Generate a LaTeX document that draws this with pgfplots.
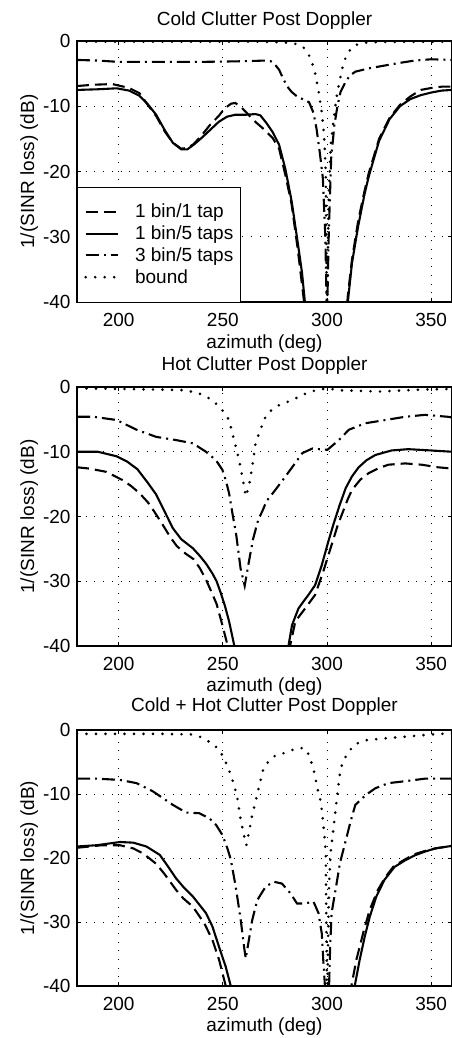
\documentclass[border=0pt]{standalone}
\usepackage{fontspec}
\setmainfont{Liberation Sans}
\usepackage{pgfplots}
\pgfplotsset{compat=1.18}
\newcommand{\fs}{\fontsize{19}{22}\selectfont}
\pgfplotsset{
  panel/.style={
    scale only axis, width=375pt, anchor=north west,
    xmin=180, xmax=360, ymin=-40, ymax=0,
    xtick={200,250,300,350}, ytick={-40,-30,-20,-10,0},
    grid=major,
    major grid style={black, line width=0.9pt, dash pattern=on 0.9pt off 7.8pt},
    tick align=inside, major tick length=4pt,
    tick style={black, line width=0.8pt},
    axis line style={line width=1.5pt},
    ticklabel style={font=\fs},
    /pgf/number format/assume math mode=true,
    xticklabel style={anchor=base, yshift=-24pt},
    yticklabel style={anchor=east, xshift=-3pt},
  },
  sA/.style={black, line width=2.1pt, dash pattern=on 12pt off 6pt},
  sB/.style={black, line width=2.1pt, solid},
  sC/.style={black, line width=2.1pt, dash pattern=on 13pt off 5pt on 2pt off 5pt},
  sD/.style={black, line width=2.9pt, line cap=round, dash pattern=on 0pt off 9.5pt},
}
\begin{document}
\begin{tikzpicture}
\useasboundingbox (0pt,0pt) rectangle (452pt,-1038pt);
% ---------------- Panel 1: Cold ----------------
\begin{axis}[panel, at={(77pt,-41pt)}, height=261pt,
  legend style={at={(0,0)}, anchor=south west, draw=black, fill=white,
    font=\fs, inner xsep=7pt, inner ysep=14pt, row sep=0.5pt,
    nodes={inner xsep=0pt, inner ysep=3pt}, cells={anchor=west},
    /tikz/every odd column/.append style={column sep=16pt}},
  legend cell align=left,
  legend image code/.code={\draw[#1] (0pt,0pt) -- (32pt,0pt);},
]
\addplot[sA] coordinates {(180,-6.9) (188,-6.7) (197,-6.6) (205,-7.2) (210,-8.0) (214,-9.8) (218,-11.5) (222,-13.8) (226,-15.6) (230,-16.5) (233,-16.4) (236,-15.8) (240,-14.4) (244,-12.8) (248,-11.5) (251,-10.3) (254,-9.6) (256,-9.5) (259,-10.2) (262,-11.2) (266,-12.5) (270,-13.6) (274,-14.9) (277,-16.5) (280,-20.5) (283,-25) (286,-32) (289,-40) (290,-43)
 (309,-43) (310,-39) (312,-33.5) (315,-27.5) (318,-23) (320,-20.3) (325,-15) (330,-11.8) (335,-9.8) (340,-8.5) (345,-7.5) (350,-7.2) (355,-7.0) (360,-7.0)};
\addlegendentry{1 bin/1 tap}
\addplot[sB] coordinates {(180,-7.5) (190,-7.4) (199,-7.25) (205,-7.6) (210,-8.4) (214,-9.7) (218,-11.3) (222,-13.6) (226,-15.6) (230,-16.6) (233,-16.6) (236,-15.9) (240,-14.8) (244,-13.6) (248,-12.4) (252,-11.6) (256,-11.3) (261,-11.3) (265.7,-11.2) (268,-11.4) (271,-12.6) (274,-14.0) (277,-15.9) (280,-19.6) (283,-24.5) (286,-31) (288,-35.5) (290,-42)
 (309.5,-43) (310,-40) (312,-34) (315,-28.3) (318,-23.5) (320,-20.8) (325,-15.3) (330,-12.0) (335,-10.0) (340,-8.9) (345,-8.3) (350,-7.9) (355,-7.6) (360,-7.5)};
\addlegendentry{1 bin/5 taps}
\addplot[sC] coordinates {(180,-2.9) (190,-3.0) (200,-3.2) (220,-3.2) (240,-3.2) (260,-3.1) (270,-3.0) (273,-3.1) (275,-3.6) (277,-4.4) (279,-5.8) (281,-7.0) (283,-7.8) (286,-8.6) (289,-9.0) (291.4,-9.4) (293.5,-11.0) (295,-13.5) (296.5,-17) (298,-21) (299.2,-30) (300,-43) (300.8,-30) (302,-18) (303.5,-13) (305,-10) (306.5,-7.8) (309,-6.2) (311,-5.3) (313.6,-4.7) (320,-4.2) (327,-3.8) (334,-3.4) (342,-3.0) (350,-2.8) (360,-2.9)};
\addlegendentry{3 bin/5 taps}
\addplot[sD] coordinates {(180,-0.1) (200,-0.1) (220,-0.1) (240,-0.1) (260,-0.1) (275,-0.15) (282,-0.3) (286,-0.5) (288.5,-0.9) (291,-1.9) (293,-3.5) (294.5,-5.2) (296,-7.8) (297.5,-11) (298.6,-14.4) (299.4,-20) (300,-43) (300.8,-24) (301.8,-16) (303.3,-11.8) (304.5,-8.8) (305.7,-6.7) (307,-4.6) (308.5,-2.9) (310.5,-1.6) (313,-0.7) (317,-0.3) (325,-0.15) (360,-0.1)};
\addlegendentry{bound}
\end{axis}
% ---------------- Panel 2: Hot ----------------
\begin{axis}[panel, at={(77pt,-387pt)}, height=259pt]
\addplot[sA] coordinates {(180,-12.4) (186,-12.6) (194,-13.1) (202,-14.4) (206,-15.3) (210,-16.4) (214,-17.8) (217,-19.2) (221,-21.2) (225,-23.3) (228,-24.6) (232,-25.7) (236,-26.6) (239,-28.0) (242,-29.8) (245,-32.0) (247,-33.5) (249.8,-36.8) (252.2,-39.8) (253,-43)
 (282,-43) (282.4,-39.8) (284.8,-36.2) (289.5,-34.2) (294.3,-32.1) (298.2,-28.5) (302.2,-24.4) (305,-21.5) (307,-19.8) (310,-17.3) (312,-15.9) (316,-14.3) (320,-13.3) (325,-12.5) (329.5,-12.0) (337.5,-11.8) (345.4,-12.0) (353.3,-12.4) (360,-12.6)};
\addplot[sB] coordinates {(180,-10.0) (190,-10.0) (199,-10.7) (204,-11.5) (209,-12.7) (214,-14.8) (218,-16.6) (222,-19.2) (226,-21.8) (230,-23.5) (235.6,-24.9) (239,-26.1) (242,-27.3) (245,-28.8) (247,-30.0) (249,-31.8) (251,-33.8) (253,-36.2) (255.4,-39.8) (256.5,-43)
 (281,-43) (281.6,-39.8) (283.2,-36.8) (286.3,-34.2) (289,-33.0) (291.1,-32.1) (294.3,-30.6) (297.5,-27.5) (300.6,-23.9) (303,-21.3) (306,-18.3) (309,-15.6) (312,-13.8) (315.2,-12.4) (319,-11.3) (323.2,-10.5) (331,-9.8) (339,-9.6) (350,-9.8) (360,-10.0)};
\addplot[sC] coordinates {(180,-4.6) (188,-4.6) (199,-5.1) (208.6,-6.6) (218,-7.7) (227.6,-8.2) (235.6,-8.7) (241.9,-10.0) (246.7,-11.3) (249.8,-12.8) (251.4,-14.4) (253,-16.4) (254.6,-19.5) (256.5,-23) (258.5,-28) (260.5,-30.7) (262.5,-27) (264.5,-23.5) (267,-20.5) (269.2,-19.0) (271,-17.6) (274,-16.4) (278.7,-14.4) (283.5,-12.3) (288.2,-10.2) (293,-9.5) (296,-9.6) (300.2,-9.7) (305.7,-8.2) (310.5,-6.6) (318.4,-5.6) (328,-5.1) (337.5,-4.6) (347,-4.3) (358,-4.6) (360,-4.7)};
\addplot[sD] coordinates {(180,-0.2) (200,-0.3) (220,-0.4) (232,-0.5) (238.7,-1.0) (245,-2.0) (249.8,-3.6) (253,-5.1) (254.6,-7.2) (256.2,-9.2) (257.8,-11.3) (259.4,-13.9) (261,-16.9) (262.5,-15.4) (264.1,-12.3) (265.7,-8.7) (268,-6.6) (270.5,-4.6) (272.4,-3.8) (277,-2.8) (283.5,-2.0) (288.2,-1.2) (294.6,-0.5) (300.2,-0.2) (306,-0.5) (325,-0.7) (345,-0.4) (360,-0.3)};
\end{axis}
% ---------------- Panel 3: Cold + Hot ----------------
\begin{axis}[panel, at={(77pt,-730pt)}, height=256pt]
\addplot[sA] coordinates {(180,-18.4) (192,-18.0) (200.6,-18.0) (207,-18.5) (211.8,-19.3) (218,-20.9) (222,-22.5) (227.6,-25.0) (231,-26.3) (235.6,-27.6) (241.1,-30.2) (245,-32.8) (248.2,-35.9) (251.4,-40) (252.5,-43)
 (310.5,-43) (311.7,-40) (314.1,-35.9) (317.3,-31.8) (320.5,-28.1) (324.4,-25.0) (328,-23.0) (332,-21.3) (337,-20.3) (342,-19.4) (347,-18.9) (352,-18.5) (358,-18.2) (360,-18.1)};
\addplot[sB] coordinates {(180,-18.2) (189.5,-18.0) (200.6,-17.5) (207,-17.6) (213.3,-18.2) (219.7,-19.5) (223,-21.0) (227.6,-23.2) (231,-24.5) (235.6,-26.0) (241.9,-28.6) (245,-30.7) (248.2,-33.9) (251.4,-37) (253.8,-40) (255,-43)
 (312,-43) (313.3,-40) (315.7,-35.9) (318.1,-32.3) (320.5,-29.2) (323.7,-26.0) (327.6,-23.4) (332.4,-21.4) (337.3,-20.4) (342,-19.6) (347,-19.0) (352,-18.5) (358,-18.2) (360,-18.1)};
\addplot[sC] coordinates {(180,-7.6) (189.5,-7.6) (200.6,-7.8) (208.6,-8.3) (216.5,-9.6) (226,-11.7) (232.4,-12.9) (238.7,-13.0) (243.5,-13.8) (246.7,-14.8) (249.8,-16.4) (252.2,-18.5) (253.8,-20.2) (256.2,-24.5) (258.6,-29.7) (260.2,-33.9) (261,-35.7) (262.5,-32.8) (264.1,-29.7) (266.5,-26.6) (270.5,-24.5) (274.4,-23.7) (278.4,-24.0) (282.4,-25.5) (285.6,-27.1) (289.5,-27.1) (293.5,-26.8) (295.9,-28.6) (297.5,-31.8) (298.2,-35.9) (299,-40) (300,-43) (301,-40) (301.5,-34) (302.2,-28.6) (304.6,-24.0) (306.2,-20.8) (308.9,-17.4) (311.3,-14.3) (313.6,-11.7) (318.4,-10.2) (323.2,-9.1) (329.5,-8.3) (337.5,-8.0) (347,-7.6) (360,-7.6)};
\addplot[sD] coordinates {(180,-0.6) (200,-0.6) (220,-0.6) (235.6,-0.7) (238.7,-1.0) (245,-2.1) (248.2,-3.1) (250.6,-4.4) (252.2,-5.7) (253.8,-7.0) (255.4,-8.6) (257,-10.7) (258.6,-14.1) (260.2,-16.5) (261.3,-18.0) (262.5,-16.0) (264.1,-13.3) (265.7,-11.2) (267.3,-8.9) (269.5,-6.0) (272.4,-4.7) (275.6,-3.9) (279.5,-3.6) (285.1,-2.9) (289,-2.8) (291.4,-3.9) (293.8,-6.5) (295.4,-9.1) (297,-11.2) (297.8,-13.3) (298.6,-15.9) (299.4,-19.0) (300,-43) (301,-24) (301.8,-19) (303.3,-14.8) (304.9,-10.2) (306.5,-6.0) (308.9,-4.2) (312.9,-2.3) (318.4,-1.6) (328,-1.3) (339,-1.0) (350.2,-0.7) (360,-0.5)};
\end{axis}
% ---------------- Titles and labels ----------------
\node[font=\fs, anchor=base] at (264.5pt,-25.5pt) {Cold Clutter Post Doppler};
\node[font=\fs, anchor=base] at (264.5pt,-370pt) {Hot Clutter Post Doppler};
\node[font=\fs, anchor=base] at (264.5pt,-711pt) {Cold + Hot Clutter Post Doppler};
\node[font=\fs, anchor=base] at (264.5pt,-348pt) {azimuth (deg)};
\node[font=\fs, anchor=base] at (264.5pt,-691pt) {azimuth (deg)};
\node[font=\fs, anchor=base] at (264.5pt,-1031pt) {azimuth (deg)};
\node[font=\fs, anchor=base, rotate=90] at (34pt,-171.5pt) {1/(SINR loss) (dB)};
\node[font=\fs, anchor=base, rotate=90] at (34pt,-516.5pt) {1/(SINR loss) (dB)};
\node[font=\fs, anchor=base, rotate=90] at (34pt,-858pt) {1/(SINR loss) (dB)};
\end{tikzpicture}
\end{document}
